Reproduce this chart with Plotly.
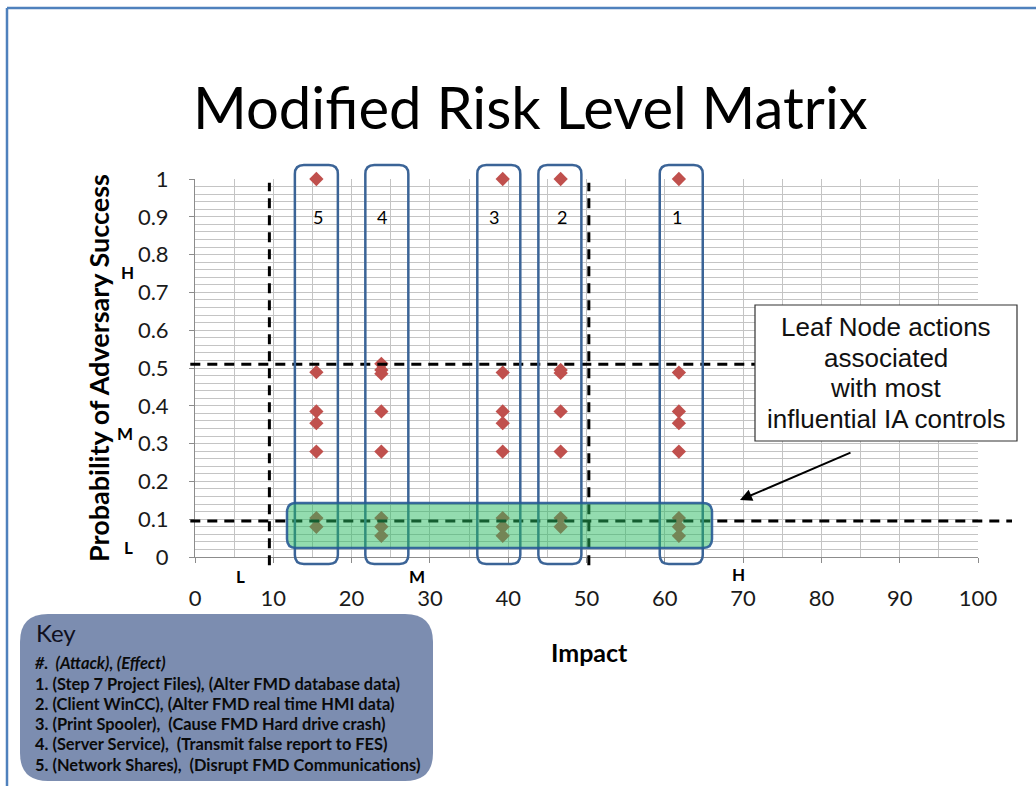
import plotly.graph_objects as go

# ---- data -------------------------------------------------------------
attack_ids = ["5", "4", "3", "2", "1"]
impact = [15.5, 23.8, 39.3, 46.7, 61.8]          # impact score per attack
prob_attack5 = [1.0, 0.489, 0.385, 0.354, 0.279, 0.103, 0.080]
prob_attack4 = [0.511, 0.495, 0.485, 0.385, 0.279, 0.103, 0.080, 0.056]
prob_attack3 = [1.0, 0.488, 0.385, 0.354, 0.279, 0.103, 0.080, 0.056]
prob_attack2 = [1.0, 0.495, 0.487, 0.385, 0.279, 0.103, 0.080]
prob_attack1 = [1.0, 0.488, 0.385, 0.354, 0.279, 0.103, 0.080, 0.056]
prob_by_attack = [prob_attack5, prob_attack4, prob_attack3, prob_attack2, prob_attack1]

impact_bounds = [9.5, 50.3]       # L/M and M/H impact boundaries
prob_bounds = [0.095, 0.51]       # L/M and M/H probability boundaries

x_ticks = list(range(0, 101, 10))
y_ticks = [i / 10 for i in range(11)]
y_tick_text = ["0", "0.1", "0.2", "0.3", "0.4", "0.5", "0.6", "0.7", "0.8", "0.9", "1"]

key_title = "Key"
key_header = "#.  (Attack), (Effect)"
key_lines = [
    "1. (Step 7 Project Files), (Alter FMD database data)",
    "2. (Client WinCC), (Alter FMD real time HMI data)",
    "3. (Print Spooler),  (Cause FMD Hard drive crash)",
    "4. (Server Service),  (Transmit false report to FES)",
    "5. (Network Shares),  (Disrupt FMD Communications)",
]
callout_lines = ["Leaf Node actions", "associated", "with most", "influential IA controls"]

# ---- layout geometry (pixels of the 1036x786 page) ---------------------
W, H = 1036, 786
PL, PR, PT, PB = 195, 978, 179, 557


def px_x(p):
    return (p - PL) / (PR - PL)


def px_y(p):
    return (PB - p) / (PB - PT)


def rrect(x0, y0, x1, y1, rx, ry):
    """Rounded rectangle path in paper coordinates (y0 < y1)."""
    return (f"M {x0 + rx},{y0} L {x1 - rx},{y0} Q {x1},{y0} {x1},{y0 + ry} "
            f"L {x1},{y1 - ry} Q {x1},{y1} {x1 - rx},{y1} L {x0 + rx},{y1} "
            f"Q {x0},{y1} {x0},{y1 - ry} L {x0},{y0 + ry} Q {x0},{y0} {x0 + rx},{y0} Z")


CAL = "Lato, 'Open Sans', sans-serif"
ARIAL = "'Liberation Sans', Arial, sans-serif"
RED = "#C0504D"
BOX_BLUE = "#3B6497"

# ---- markers ------------------------------------------------------------
xs, ys = [], []
for x, probs in zip(impact, prob_by_attack):
    xs += [x] * len(probs)
    ys += probs

fig = go.Figure()
fig.add_trace(go.Scatter(
    x=xs, y=ys, mode="markers", cliponaxis=False, showlegend=False,
    marker=dict(symbol="diamond", size=11, color=RED, line=dict(width=0)),
    hoverinfo="x+y",
))

shapes = []

# slide frame
shapes.append(dict(type="line", xref="paper", yref="paper",
                   x0=px_x(7), x1=px_x(W + 5), y0=px_y(8), y1=px_y(8),
                   line=dict(color="#4F81BD", width=2.5)))
shapes.append(dict(type="line", xref="paper", yref="paper",
                   x0=px_x(7), x1=px_x(7), y0=px_y(8), y1=px_y(H + 5),
                   line=dict(color="#4F81BD", width=2.5)))

# threshold dashed lines
dash = "10px,7px"
for xb in impact_bounds:
    shapes.append(dict(type="line", xref="paper", yref="paper",
                       x0=xb / 100, x1=xb / 100, y0=-0.022, y1=0.99,
                       line=dict(color="black", width=3, dash=dash), layer="above"))
shapes.append(dict(type="line", xref="paper", yref="paper",
                   x0=-0.006, x1=px_x(755), y0=prob_bounds[1], y1=prob_bounds[1],
                   line=dict(color="black", width=3, dash=dash), layer="above"))
shapes.append(dict(type="line", xref="paper", yref="paper",
                   x0=-0.006, x1=px_x(1012), y0=prob_bounds[0], y1=prob_bounds[0],
                   line=dict(color="black", width=3, dash=dash), layer="above"))

# per-attack column outlines
box_centers = [15.5, 24.5, 38.8, 46.6, 62.1]
hw = 21.5 / (PR - PL)
rx = 9 / (PR - PL)
ry = 9 / (PB - PT)
for c in box_centers:
    shapes.append(dict(type="path", xref="paper", yref="paper",
                       path=rrect(c / 100 - hw, px_y(564), c / 100 + hw, px_y(165), rx, ry),
                       line=dict(color=BOX_BLUE, width=2.5), layer="above"))

# highlighted low-probability band
shapes.append(dict(type="path", xref="paper", yref="paper",
                   path=rrect(px_x(287), px_y(548), px_x(712), px_y(503), rx, ry),
                   fillcolor="rgba(40,185,95,0.5)",
                   line=dict(color="rgba(40,90,150,0.9)", width=2.5), layer="above"))

# callout box
shapes.append(dict(type="rect", xref="paper", yref="paper",
                   x0=px_x(755), x1=px_x(1017), y0=px_y(441), y1=px_y(305),
                   fillcolor="white", line=dict(color="#333333", width=1.2), layer="above"))

# key box
krx = 28 / (PR - PL)
kry = 28 / (PB - PT)
shapes.append(dict(type="path", xref="paper", yref="paper",
                   path=rrect(px_x(20), px_y(781), px_x(433), px_y(614), krx, kry),
                   fillcolor="#7C8DB0", line=dict(width=0), layer="above"))

annotations = []


def label(text, x, y, size, family=CAL, color="black", xanchor="center", bold=False, **kw):
    t = f"<b>{text}</b>" if bold else text
    annotations.append(dict(text=t, xref="paper", yref="paper", x=px_x(x), y=px_y(y),
                            xanchor=xanchor, yanchor="middle", showarrow=False,
                            font=dict(family=family, size=size, color=color), **kw))


# title
label("Modified Risk Level Matrix", 530, 106, 58)

# attack numbers inside the columns
label_x = [15.7, 23.9, 38.2, 46.9, 61.6]
for t, lx in zip(attack_ids, label_x):
    annotations.append(dict(text=t, xref="x", yref="y", x=lx, y=0.9, showarrow=False,
                            font=dict(family=CAL, size=18, color="black")))

# H / M / L band letters
label("H", 127, 272, 17, bold=True)
label("M", 125, 433, 17, bold=True)
label("L", 128, 547, 17, bold=True)
label("L", 240, 576, 17, bold=True)
label("M", 417, 576, 17, bold=True)
label("H", 738, 574, 17, bold=True)

# axis titles
label("Probability of Adversary Success", 98, 368, 27, bold=True, textangle=-90)
label("Impact", 589, 652, 25, bold=True)

# callout text and arrow
for i, line in enumerate(callout_lines):
    label(line, 886, 327 + i * 30.7, 26, family=ARIAL, color="#111111")
annotations.append(dict(text="", xref="paper", yref="paper", x=px_x(740), y=px_y(500),
                        ax=112, ay=-48, showarrow=True, arrowhead=2, arrowsize=1.2,
                        arrowwidth=2, arrowcolor="black", standoff=0))

# key text
label(key_title, 34, 632, 24, color="#101020", xanchor="left")
label(f"<i>{key_header}</i>", 33, 662, 16.4, color="#0a0a0a", xanchor="left", bold=True)
for i, line in enumerate(key_lines):
    label(line, 33, 683 + i * 20.3, 16.4, color="#0a0a0a", xanchor="left", bold=True)

grid = "#C4C4C4"
fig.update_layout(
    width=W, height=H,
    margin=dict(l=PL, r=W - PR, t=PT, b=H - PB, pad=0),
    paper_bgcolor="white", plot_bgcolor="white",
    showlegend=False,
    shapes=shapes, annotations=annotations,
    xaxis=dict(range=[0, 100], tickvals=x_ticks, ticktext=[str(v) for v in x_ticks],
               showgrid=True, gridcolor=grid, gridwidth=1,
               minor=dict(dtick=5, showgrid=True, gridcolor=grid, gridwidth=1),
               showline=True, linecolor="#8C8C8C", linewidth=1,
               ticks="outside", ticklen=5, tickcolor="#8C8C8C",
               ticklabelstandoff=17, zeroline=False, fixedrange=True,
               tickfont=dict(family=CAL, size=22, color="#1a1a1a")),
    yaxis=dict(range=[0, 1], tickvals=y_ticks, ticktext=y_tick_text,
               showgrid=True, gridcolor=grid, gridwidth=1,
               minor=dict(dtick=0.02, showgrid=True, gridcolor=grid, gridwidth=1),
               showline=True, linecolor="#8C8C8C", linewidth=1,
               ticks="outside", ticklen=5, tickcolor="#8C8C8C",
               ticklabelstandoff=16, zeroline=False, fixedrange=True,
               tickfont=dict(family=CAL, size=22, color="#1a1a1a")),
)

fig.write_html("out.html")
